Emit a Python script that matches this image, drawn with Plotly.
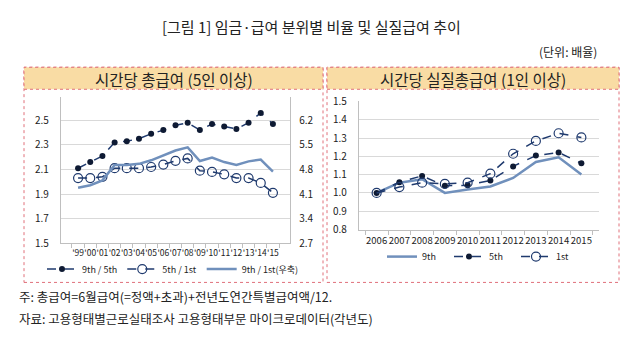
import plotly.graph_objects as go

# ---- data ----
years_left = ["'99", "'00", "'01", "'02", "'03", "'04", "'05", "'06", "'07",
              "'08", "'09", "'10", "'11", "'12", "'13", "'14", "'15"]
ratio_9_5 = [2.11, 2.16, 2.21, 2.32, 2.33, 2.35, 2.39, 2.42, 2.46,
             2.48, 2.42, 2.47, 2.45, 2.43, 2.48, 2.56, 2.47]
ratio_5_1 = [2.03, 2.03, 2.04, 2.11, 2.11, 2.11, 2.12, 2.14, 2.17,
             2.19, 2.09, 2.08, 2.06, 2.03, 2.03, 1.99, 1.91]
ratio_9_1 = [4.28, 4.35, 4.49, 4.93, 4.93, 4.96, 5.06, 5.19, 5.34,
             5.43, 5.04, 5.14, 5.01, 4.93, 5.03, 5.08, 4.74]

years_right = ["2006", "2007", "2008", "2009", "2010",
               "2011", "2012", "2013", "2014", "2015"]
real_9th = [1.00, 1.056, 1.075, 1.00, 1.019, 1.035, 1.082, 1.169, 1.195, 1.101]
real_5th = [1.00, 1.059, 1.093, 1.039, 1.042, 1.068, 1.145, 1.204, 1.221, 1.162]
real_1st = [1.00, 1.032, 1.056, 1.049, 1.056, 1.105, 1.214, 1.284, 1.326, 1.303]

left_ticks = [1.5, 1.7, 1.9, 2.1, 2.3, 2.5]
right_ticks = [2.7, 3.4, 4.1, 4.8, 5.5, 6.2]
real_ticks = [0.8, 0.9, 1.0, 1.1, 1.2, 1.3, 1.4, 1.5]

# ---- styling ----
W, H = 640, 342
NAVY = "#1F3A6E"
DOT = "#0E1A33"
STEEL = "#7090BC"
GRID = "#D9D9D9"
AXIS = "#BFBFBF"
BAND = "#F9DCA4"
BORDER = "#E0707A"
FONT = "Noto Sans CJK KR"
TXT = "#222222"


def px(x):
    return x / W


def py(y):
    return 1 - y / H


fig = go.Figure()

# left panel: quantile ratios
fig.add_trace(go.Scatter(
    x=years_left, y=ratio_9_5, name="9th / 5th", xaxis="x", yaxis="y",
    mode="lines+markers", line=dict(color=NAVY, width=1.5, dash="dash"),
    marker=dict(symbol="circle", size=6, color=DOT), legend="legend"))
fig.add_trace(go.Scatter(
    x=years_left, y=ratio_5_1, name="5th / 1st", xaxis="x", yaxis="y",
    mode="lines+markers", line=dict(color=NAVY, width=1.5, dash="dash"),
    marker=dict(symbol="circle-open", size=9, color=NAVY, line=dict(width=1.2)),
    legend="legend"))
fig.add_trace(go.Scatter(
    x=years_left, y=ratio_9_1, name="9th / 1st(우축)", xaxis="x", yaxis="y2",
    mode="lines", line=dict(color=STEEL, width=2.5), legend="legend"))

# right panel: real hourly wages
fig.add_trace(go.Scatter(
    x=years_right, y=real_9th, name="9th", xaxis="x2", yaxis="y3",
    mode="lines", line=dict(color=STEEL, width=2.5), legend="legend2"))
fig.add_trace(go.Scatter(
    x=years_right, y=real_5th, name="5th", xaxis="x2", yaxis="y3",
    mode="lines+markers", line=dict(color=NAVY, width=1.5, dash="dash"),
    marker=dict(symbol="circle", size=6, color=DOT), legend="legend2"))
fig.add_trace(go.Scatter(
    x=years_right, y=real_1st, name="1st", xaxis="x2", yaxis="y3",
    mode="lines+markers", line=dict(color=NAVY, width=1.5, dash="dash"),
    marker=dict(symbol="circle-open", size=9, color=NAVY, line=dict(width=1.2)),
    legend="legend2"))

tickfont = dict(family=FONT, size=10, color=TXT)

left_lo, left_hi = 1.5, 2.69
scale = 3.5

fig.update_layout(
    width=W, height=H, autosize=False,
    margin=dict(l=0, r=0, t=0, b=0),
    paper_bgcolor="white", plot_bgcolor="white",
    font=dict(family=FONT, color=TXT),
    xaxis=dict(domain=[px(61), px(290)], anchor="y", type="category",
               showline=True, linecolor=AXIS, linewidth=1,
               ticks="outside", tickson="boundaries", ticklen=4, tickcolor=AXIS,
               showgrid=False, tickangle=0,
               tickfont=dict(family=FONT, size=8.5, color=TXT),
               ticklabelstandoff=2),
    yaxis=dict(domain=[py(246), py(93)], anchor="x", range=[left_lo, left_hi],
               tickvals=left_ticks, ticktext=[f"{v:.1f}" for v in left_ticks],
               showgrid=True, gridcolor=GRID, gridwidth=1.3,
               showline=True, linecolor=AXIS, linewidth=1.3, zeroline=False,
               tickfont=tickfont, ticklabelstandoff=9),
    yaxis2=dict(overlaying="y", side="right", anchor="x",
                range=[2.7, 2.7 + (left_hi - left_lo) * scale],
                tickvals=right_ticks, ticktext=[f"{v:.1f}" for v in right_ticks],
                showgrid=False, showline=True, linecolor=AXIS, linewidth=1.3,
                zeroline=False, tickfont=tickfont, ticklabelstandoff=6),
    xaxis2=dict(domain=[px(359), px(599)], anchor="y3", type="category",
                showline=True, linecolor=AXIS, linewidth=1,
                ticks="outside", tickson="boundaries", ticklen=4, tickcolor=AXIS,
                showgrid=False, tickangle=0,
                tickfont=dict(family=FONT, size=9.5, color=TXT),
                ticklabelstandoff=2),
    yaxis3=dict(domain=[py(231.7), py(97.7)], anchor="x2", range=[0.8, 1.5],
                tickvals=real_ticks, ticktext=[f"{v:.1f}" for v in real_ticks],
                showgrid=True, gridcolor=GRID, gridwidth=1.3,
                showline=True, linecolor=AXIS, linewidth=1.3, zeroline=False,
                tickfont=tickfont, ticklabelstandoff=9),
    legend=dict(orientation="h", x=px(173), y=py(273), xanchor="center",
                yanchor="middle", font=dict(family=FONT, size=9, color=TXT),
                bgcolor="rgba(0,0,0,0)", itemwidth=30),
    legend2=dict(orientation="h", x=px(382), y=py(260), xanchor="left",
                 yanchor="middle", font=dict(family=FONT, size=9, color=TXT),
                 bgcolor="rgba(0,0,0,0)", itemwidth=30,
                 entrywidth=22, entrywidthmode="pixels"),
    showlegend=True,
)

# panel frames and title bands
shapes = []
for x0, x1 in [(24, 323), (327, 619)]:
    shapes.append(dict(type="rect", xref="paper", yref="paper",
                       x0=px(x0), x1=px(x1), y0=py(287), y1=py(62),
                       line=dict(color=BORDER, width=1, dash="dot"),
                       fillcolor="rgba(0,0,0,0)", layer="below"))
    shapes.append(dict(type="rect", xref="paper", yref="paper",
                       x0=px(x0), x1=px(x1), y0=py(85), y1=py(62),
                       line=dict(color=BORDER, width=1, dash="dot"),
                       fillcolor=BAND, layer="below"))
fig.update_layout(shapes=shapes)

annotations = [
    dict(text="[그림 1] 임금·급여 분위별 비율 및 실질급여 추이", x=px(311), y=py(19),
         font=dict(size=15)),
    dict(text="(단위: 배율)", x=px(599), y=py(45), xanchor="right",
         font=dict(size=12)),
    dict(text="시간당 총급여 (5인 이상)", x=px(174), y=py(74), font=dict(size=15.5)),
    dict(text="시간당 실질총급여 (1인 이상)", x=px(473), y=py(74), font=dict(size=15.5)),
    dict(text="주: 총급여=6월급여(=정액+초과)+전년도연간특별급여액/12.",
         x=px(17), y=py(302), xanchor="left", font=dict(size=12.5)),
    dict(text="자료: 고용형태별근로실태조사 고용형태부문 마이크로데이터(각년도)",
         x=px(17), y=py(325), xanchor="left", font=dict(size=12.5)),
]
for a in annotations:
    a.update(xref="paper", yref="paper", showarrow=False,
             xanchor=a.get("xanchor", "center"), yanchor="middle")
    a["font"].update(family=FONT, color=TXT)
fig.update_layout(annotations=annotations)

fig.write_html("out.html")
